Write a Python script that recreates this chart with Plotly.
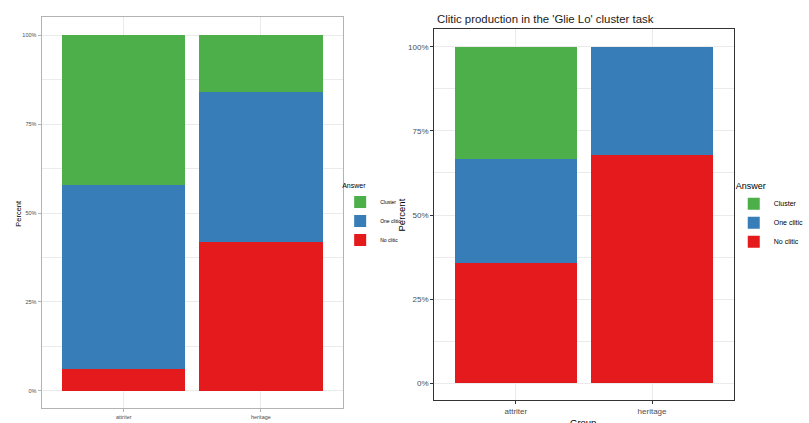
import plotly.graph_objects as go

W, H = 809, 423

# ---------------- data ----------------
groups = ["attriter", "heritage"]
answers = ["No clitic", "One clitic", "Cluster"]          # stacking order (bottom -> top)
colors = {"Cluster": "#4DAF4A", "One clitic": "#377EB8", "No clitic": "#E41A1C"}

left_no_clitic = [0.061, 0.419]
left_one_clitic = [0.517, 0.421]
left_cluster = [0.422, 0.160]

right_no_clitic = [0.357, 0.679]
right_one_clitic = [0.310, 0.321]
right_cluster = [0.333, 0.0]

y_tickvals = [0, 0.25, 0.5, 0.75, 1.0]
y_ticktext = ["0%", "25%", "50%", "75%", "100%"]
minor_vals = [0.125, 0.375, 0.625, 0.875]

right_title = "Clitic production in the 'Glie Lo' cluster task"

left_vals = {"No clitic": left_no_clitic, "One clitic": left_one_clitic, "Cluster": left_cluster}
right_vals = {"No clitic": right_no_clitic, "One clitic": right_one_clitic, "Cluster": right_cluster}


def px(x):
    return x / W


def py(y):
    return 1 - y / H


FONT = "Arial, Liberation Sans, sans-serif"

fig = go.Figure()
for a in answers:
    fig.add_trace(go.Bar(x=groups, y=left_vals[a], name=a, marker=dict(color=colors[a], line=dict(width=0)),
                         width=0.9, xaxis="x", yaxis="y", legend="legend"))
for a in answers:
    fig.add_trace(go.Bar(x=groups, y=right_vals[a], name=a, marker=dict(color=colors[a], line=dict(width=0)),
                         width=0.9, xaxis="x2", yaxis="y2", legend="legend2"))


def xaxis(domain, anchor, linecolor, gridcolor, fsize, tickcolor):
    return dict(domain=domain, anchor=anchor, type="category", range=[-0.6, 1.6],
                showline=True, mirror=True, linecolor=linecolor, linewidth=1,
                showgrid=True, gridcolor=gridcolor, gridwidth=1,
                ticks="outside", ticklen=3, tickwidth=1, tickcolor=tickcolor,
                tickfont=dict(family=FONT, size=fsize, color="#4D4D4D"), fixedrange=True)


def yaxis(domain, anchor, rng, linecolor, gridcolor, fsize, tickcolor):
    return dict(domain=domain, anchor=anchor, range=rng,
                tickvals=y_tickvals, ticktext=y_ticktext,
                showline=True, mirror=True, linecolor=linecolor, linewidth=1,
                showgrid=True, gridcolor=gridcolor, gridwidth=1, zeroline=False,
                minor=dict(tickvals=minor_vals, showgrid=True, gridcolor=gridcolor, gridwidth=0.5, ticks=""),
                ticks="outside", ticklen=3, tickwidth=1, tickcolor=tickcolor,
                tickfont=dict(family=FONT, size=fsize, color="#4D4D4D"), fixedrange=True)


fig.update_layout(
    width=W, height=H, margin=dict(l=0, r=0, t=0, b=0),
    paper_bgcolor="white", plot_bgcolor="white",
    barmode="stack", bargap=0.1,
    font=dict(family=FONT, color="black"),
    xaxis=xaxis([px(42), px(347)], "y", "#B3B3B3", "#EBEBEB", 5.5, "#B3B3B3"),
    yaxis=yaxis([py(408), py(17)], "x", [-0.0478, 1.0506], "#B3B3B3", "#EBEBEB", 5.5, "#B3B3B3"),
    xaxis2=xaxis([px(439), px(742)], "y2", "#333333", "#EBEBEB", 8, "#333333"),
    yaxis2=yaxis([py(400), py(29)], "x2", [-0.0496, 1.0526], "#333333", "#EBEBEB", 8, "#333333"),
    legend=dict(x=px(344), y=py(217), xanchor="left", yanchor="middle", traceorder="reversed",
                title=dict(text="Answer", font=dict(family=FONT, size=7, color="black")),
                font=dict(family=FONT, size=5, color="black"), bgcolor="rgba(0,0,0,0)",
                itemwidth=30, tracegroupgap=0),
    legend2=dict(x=px(742), y=py(217), xanchor="left", yanchor="middle", traceorder="reversed",
                 title=dict(text="Answer", font=dict(family=FONT, size=9, color="black")),
                 font=dict(family=FONT, size=7, color="black"), bgcolor="rgba(0,0,0,0)",
                 itemwidth=30, tracegroupgap=0),
    showlegend=True,
    annotations=[
        dict(text="Percent", x=px(19), y=py(213), xref="paper", yref="paper", textangle=-90,
             showarrow=False, font=dict(family=FONT, size=7.5, color="black"), xanchor="center", yanchor="middle"),
        dict(text="Group", x=px(195), y=py(426), xref="paper", yref="paper",
             showarrow=False, font=dict(family=FONT, size=7.5, color="black"), xanchor="center", yanchor="middle"),
        dict(text="Percent", x=px(407), y=py(215), xref="paper", yref="paper", textangle=-90,
             showarrow=False, font=dict(family=FONT, size=9.5, color="black"), xanchor="center", yanchor="middle"),
        dict(text="Group", x=px(590), y=py(422), xref="paper", yref="paper",
             showarrow=False, font=dict(family=FONT, size=9.5, color="black"), xanchor="center", yanchor="middle"),
        dict(text=right_title, x=px(440), y=py(19), xref="paper", yref="paper",
             showarrow=False, font=dict(family=FONT, size=11.4, color="#1A1A1A"), xanchor="left", yanchor="middle"),
    ],
)

fig.write_html("out.html", config={"displayModeBar": False},
               post_script="document.body.style.margin='0';document.body.style.overflow='hidden';")
